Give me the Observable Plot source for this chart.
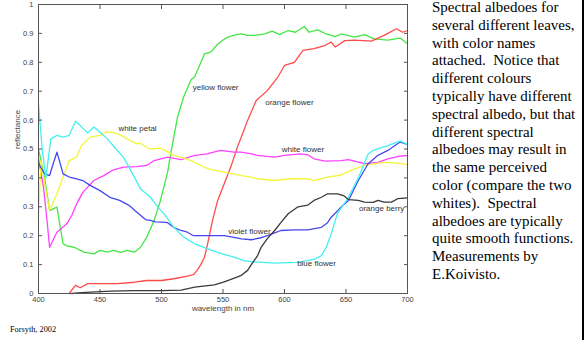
<!DOCTYPE html>
<html><head><meta charset="utf-8">
<script src="https://cdn.jsdelivr.net/npm/d3@7"></script>
<script src="https://cdn.jsdelivr.net/npm/@observablehq/plot@0.6"></script>
<style>
body{margin:0;background:#fff;}
#wrap{position:relative;width:587px;height:340px;overflow:hidden;background:#fff;}
#chart{position:absolute;left:0;top:0;}
#note{position:absolute;left:432px;top:-1px;font-family:"Liberation Serif","Times New Roman",serif;font-size:15px;line-height:17.8px;color:#000;white-space:pre;}
#credit{position:absolute;left:10px;top:325px;font-family:"Liberation Serif","Times New Roman",serif;font-size:8.3px;color:#000;white-space:nowrap;}
#bar{position:absolute;left:582px;top:0;width:2px;height:340px;background:#000;}
</style></head><body>
<div id="wrap"><div id="chart"></div><div id="note"></div><div id="credit">Forsyth, 2002</div><div id="bar"></div></div>
<script>
// wavelength (nm), reflectance
const yellowFlower = [[400,0.50],[405,0.40],[409,0.287],[415,0.299],[420,0.172],[423,0.165],[429,0.16],[437,0.143],[445,0.137],[450,0.149],[456,0.143],[461,0.149],[467,0.142],[472,0.149],[478,0.143],[483,0.16],[488,0.195],[494,0.253],[499,0.32],[502,0.37],[505,0.42],[508,0.495],[513,0.61],[518,0.68],[524,0.74],[527,0.75],[531,0.79],[535,0.83],[540,0.835],[546,0.864],[550,0.877],[554,0.887],[560,0.895],[565,0.898],[570,0.893],[576,0.893],[584,0.898],[590,0.908],[596,0.896],[603,0.91],[609,0.904],[616,0.924],[620,0.904],[627,0.912],[634,0.898],[641,0.889],[646,0.898],[657,0.887],[665,0.896],[673,0.881],[684,0.877],[694,0.884],[700,0.864]];
const orangeFlower = [[425,0.0],[430,0.028],[434,0.02],[440,0.034],[450,0.034],[464,0.034],[478,0.039],[488,0.045],[500,0.045],[510,0.051],[521,0.06],[526,0.065],[529,0.08],[532,0.10],[535,0.126],[537.5,0.172],[541.5,0.253],[545.7,0.322],[551,0.38],[556.5,0.44],[562,0.51],[567,0.565],[570,0.599],[577,0.668],[586,0.702],[594.6,0.749],[600,0.789],[608,0.80],[615,0.841],[624,0.847],[632.6,0.858],[638,0.87],[641.3,0.853],[649,0.875],[657,0.877],[670.6,0.873],[681,0.893],[691,0.916],[696,0.904],[700,0.91]];
const whiteFlower = [[400,0.466],[404,0.37],[407,0.25],[409,0.16],[415,0.212],[423,0.241],[427,0.27],[431,0.31],[436,0.35],[445,0.391],[453,0.408],[461,0.428],[469,0.437],[480,0.439],[488,0.443],[494,0.46],[505,0.472],[516,0.463],[527,0.478],[537,0.483],[548,0.495],[559,0.489],[565,0.489],[573,0.483],[578,0.478],[592,0.472],[600,0.478],[613,0.483],[619,0.48],[624,0.466],[633,0.458],[646,0.46],[652,0.463],[665,0.449],[676,0.454],[684,0.466],[692,0.474],[700,0.478]];
const whitePetal = [[400,0.264],[402,0.46],[405,0.38],[409,0.287],[415,0.345],[420,0.403],[425,0.46],[431,0.472],[435,0.512],[442,0.541],[450,0.547],[455,0.558],[459,0.558],[464,0.553],[467,0.547],[472,0.535],[480,0.518],[483,0.52],[488,0.506],[491,0.50],[499,0.503],[505,0.49],[510,0.478],[516,0.472],[524,0.46],[532,0.443],[538,0.431],[551,0.42],[565,0.408],[573,0.403],[578,0.397],[592,0.391],[605,0.397],[619,0.397],[624,0.391],[635,0.403],[646,0.41],[654,0.426],[665,0.443],[676,0.451],[684,0.454],[692,0.451],[700,0.446]];
const violetFlower = [[400,0.45],[405,0.414],[409,0.408],[412,0.45],[415,0.489],[420,0.414],[425,0.403],[431,0.397],[436,0.391],[442,0.374],[450,0.356],[458,0.333],[466,0.322],[474,0.304],[480,0.281],[487,0.256],[491,0.253],[495,0.248],[500,0.247],[505,0.245],[510,0.228],[516,0.218],[521,0.212],[526,0.20],[532,0.20],[543,0.20],[551,0.20],[558,0.195],[565,0.189],[573,0.186],[580,0.192],[586,0.20],[592,0.21],[597,0.218],[608,0.22],[619,0.22],[630,0.229],[635,0.245],[638,0.264],[646,0.299],[652,0.322],[660,0.391],[668,0.449],[676,0.478],[684,0.495],[694,0.524],[700,0.516]];
const blueFlower = [[400,0.656],[403,0.50],[406,0.40],[410,0.535],[415,0.547],[420,0.541],[425,0.547],[430,0.596],[434,0.581],[440,0.555],[445,0.576],[450,0.558],[456,0.535],[463,0.50],[469,0.472],[475,0.426],[483,0.362],[491,0.333],[497,0.299],[502,0.276],[510,0.229],[518,0.195],[527,0.172],[537,0.155],[548,0.139],[559,0.126],[567,0.114],[573,0.11],[592,0.105],[610,0.108],[619,0.114],[625,0.12],[630,0.131],[634,0.16],[638,0.207],[643,0.276],[652,0.333],[660,0.40],[668,0.483],[672,0.495],[684,0.512],[694,0.527],[700,0.516]];
const orangeBerry = [[427,0.0],[432,0.002],[442,0.005],[459,0.008],[478,0.01],[500,0.01],[516,0.012],[527,0.022],[543,0.03],[551,0.04],[557,0.05],[565,0.063],[570,0.08],[573,0.10],[578,0.13],[581,0.16],[586,0.19],[592,0.218],[597,0.245],[603,0.276],[611,0.30],[619,0.306],[624,0.322],[630,0.333],[635,0.345],[643,0.345],[648,0.339],[652,0.325],[660,0.322],[665,0.316],[672,0.315],[676,0.322],[681,0.316],[687,0.316],[692,0.328],[700,0.331]];

const seriesNames = ["yellow flower","orange flower","white flower","white petal","violet flower","blue flower","orange berry"];
const seriesColors = ["#46e646","#ff4a4a","#ff40ff","#f4f43c","#4646f0","#44f0f0","#3a3a3a"];
const seriesData = [yellowFlower, orangeFlower, whiteFlower, whitePetal, violetFlower, blueFlower, orangeBerry];

// curve labels (data coordinates)
const labelNames = ["yellow flower","orange flower","white flower","white petal","violet flower","blue flower","orange berry"];
const labelNm = [544, 604, 615, 480.5, 571.5, 626, 679];
const labelR = [0.712, 0.662, 0.498, 0.572, 0.215, 0.103, 0.293];

const xTicks = [400,450,500,550,600,650,700];
const yTicks = [0,0.1,0.2,0.3,0.4,0.5,0.6,0.7,0.8,0.9,1];

const noteLines = ["Spectral albedoes for","several different leaves,","with color names","attached.  Notice that","different colours","typically have different","spectral albedo, but that","different spectral","albedoes may result in","the same perceived","color (compare the two","whites).  Spectral","albedoes are typically","quite smooth functions.","Measurements by","E.Koivisto."];

const rows = seriesData.flatMap((d, i) => d.map(([nm, r]) => ({name: seriesNames[i], nm, r})));
const axisColor = "#555";
const fmt = d => String(+d.toFixed(1));

const chart = Plot.plot({
  width: 420, height: 317,
  marginLeft: 38, marginRight: 13, marginTop: 4, marginBottom: 24,
  style: {fontFamily: "'Liberation Sans', Arial, sans-serif", fontSize: "7.5px", background: "transparent"},
  x: {domain: [400, 700]},
  y: {domain: [0, 1]},
  color: {domain: seriesNames, range: seriesColors},
  marks: [
    Plot.line(rows, {x: "nm", y: "r", z: "name", stroke: "name", strokeWidth: 1.3}),
    Plot.frame({stroke: axisColor}),
    Plot.axisX(xTicks, {anchor: "bottom", tickSize: -4, tickFormat: () => "", label: null, color: axisColor}),
    Plot.axisX(xTicks, {anchor: "top", tickSize: -4, tickFormat: () => "", label: null, color: axisColor}),
    Plot.axisY(yTicks, {anchor: "left", tickSize: -4, tickFormat: () => "", label: null, color: axisColor}),
    Plot.axisY(yTicks, {anchor: "right", tickSize: -4, tickFormat: () => "", label: null, color: axisColor}),
    Plot.axisX(xTicks, {anchor: "bottom", tickSize: 0, tickPadding: 3, tickFormat: d => String(d), label: null, color: "#444"}),
    Plot.axisY(yTicks, {anchor: "left", tickSize: 0, tickPadding: 5, tickFormat: fmt, label: null, color: "#444"}),
    Plot.text(["wavelength in nm"], {frameAnchor: "bottom", dy: 17, fill: "#444", fontSize: 8}),
    Plot.text(["reflectance"], {frameAnchor: "left", rotate: -90, dx: -21, fill: "#444", fontSize: 8}),
    Plot.text(labelNames, {x: labelNm, y: labelR, text: d => d, fill: "#333", fontSize: 8})
  ]
});
document.getElementById("chart").appendChild(chart);
document.getElementById("note").textContent = noteLines.join("\n");
</script>
</body></html>
